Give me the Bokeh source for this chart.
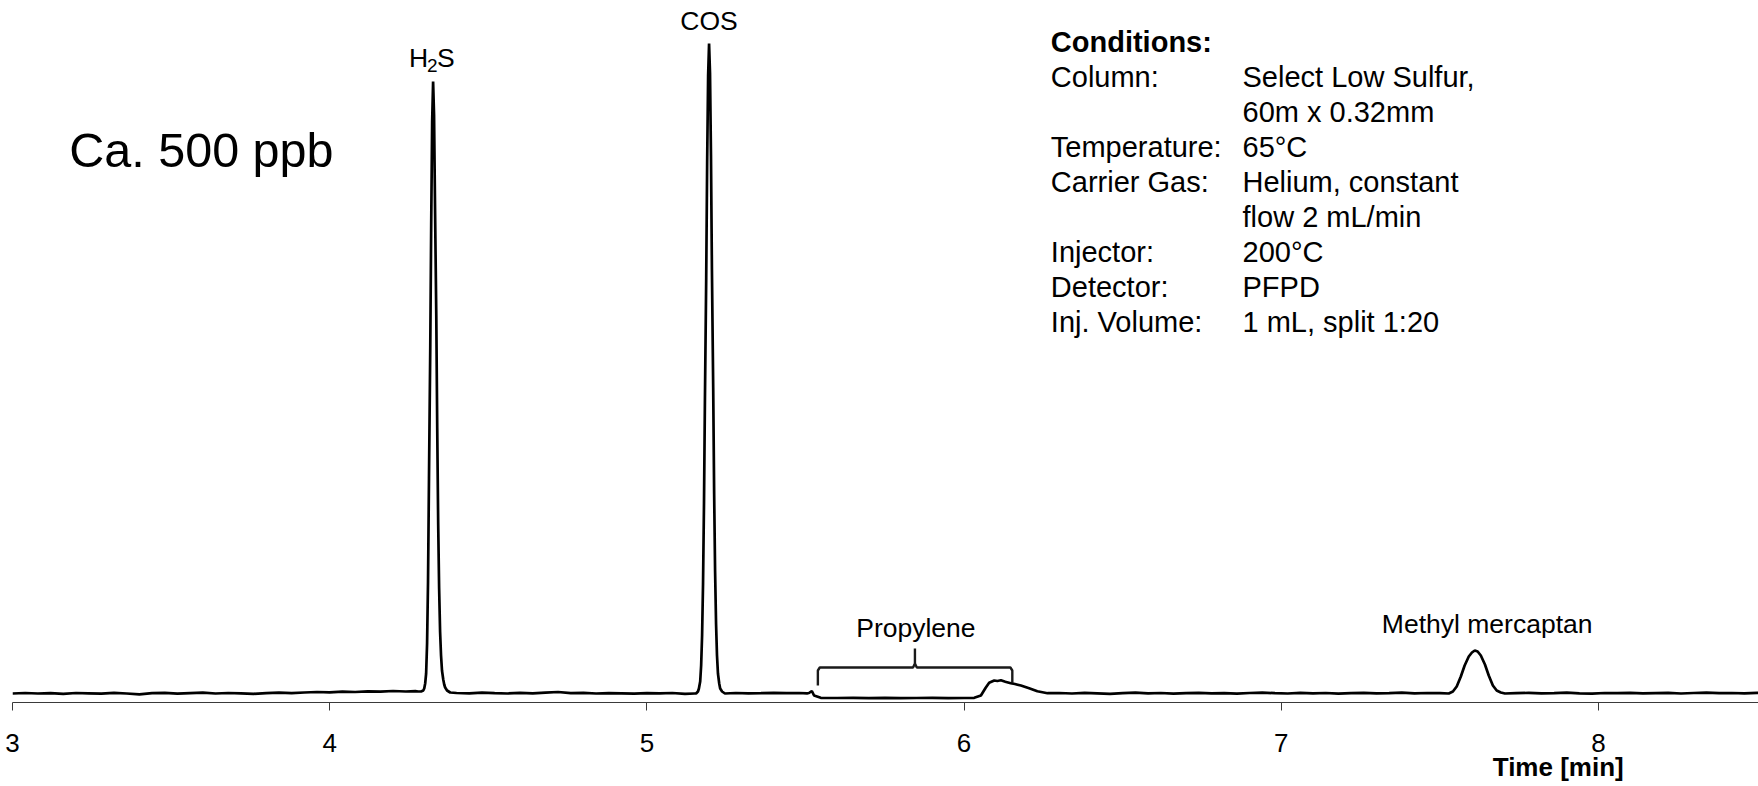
from bokeh.plotting import figure
from bokeh.models import Range1d, Label, FixedTicker, LinearAxis
from bokeh.embed import file_html
from bokeh.resources import INLINE

# ---------------- data ----------------
# retention time [min]
trace_time = [
    3.000, 3.040, 3.080, 3.120, 3.160, 3.200, 3.240, 3.280, 3.320, 3.360,
    3.400, 3.440, 3.480, 3.520, 3.560, 3.600, 3.640, 3.680, 3.720, 3.760,
    3.800, 3.840, 3.880, 3.920, 3.960, 4.000, 4.040, 4.080, 4.120, 4.160,
    4.200, 4.240, 4.270,
    # H2S
    4.279, 4.288, 4.295, 4.298, 4.301, 4.304, 4.307, 4.310, 4.313, 4.317,
    4.320, 4.323, 4.326, 4.329, 4.332, 4.336, 4.339, 4.342, 4.345, 4.348,
    4.351, 4.354, 4.358, 4.361, 4.364, 4.370, 4.380,
    4.400, 4.440, 4.480, 4.520, 4.560, 4.600, 4.640, 4.680, 4.720, 4.760,
    4.800, 4.840, 4.880, 4.920, 4.960, 5.000, 5.040, 5.080, 5.120, 5.150,
    # COS
    5.155, 5.161, 5.164, 5.168, 5.171, 5.174, 5.177, 5.180, 5.183, 5.187,
    5.190, 5.193, 5.196, 5.199, 5.202, 5.205, 5.209, 5.212, 5.215, 5.218,
    5.221, 5.224, 5.228, 5.231, 5.237, 5.246,
    5.280, 5.320, 5.360, 5.400, 5.440, 5.480, 5.505,
    # propylene region
    5.511, 5.520, 5.527, 5.548, 5.600, 5.650, 5.700, 5.750, 5.800, 5.850,
    5.900, 5.950, 6.000, 6.032, 6.053, 6.068, 6.079, 6.095, 6.105, 6.116,
    6.130, 6.147, 6.160, 6.179, 6.205, 6.231, 6.263,
    6.300, 6.340, 6.380, 6.420, 6.460, 6.500, 6.540, 6.580, 6.620, 6.660,
    6.700, 6.740, 6.780, 6.820, 6.860, 6.900, 6.940, 6.980, 7.020, 7.060,
    7.100, 7.140, 7.180, 7.220, 7.260, 7.300, 7.340, 7.380, 7.420, 7.460,
    7.500,
    # methyl mercaptan
    7.528, 7.541, 7.553, 7.566, 7.578, 7.591, 7.601, 7.610, 7.619, 7.629,
    7.642, 7.654, 7.667, 7.679, 7.692, 7.705,
    7.740, 7.780, 7.820, 7.860, 7.900, 7.940, 7.980, 8.020, 8.060, 8.100,
    8.140, 8.180, 8.220, 8.260, 8.300, 8.340, 8.380, 8.420, 8.460, 8.500,
    8.520,
]
# detector signal [arbitrary units]
trace_signal = [
    0.0, 0.5, 0.0, 0.3, -0.3, 0.5, 0.2, -0.2, 0.6, 0.0,
    -0.8, 0.3, 0.6, -0.2, 0.4, 0.9, 0.0, 0.5, 0.2, -0.3,
    0.4, 0.8, 0.3, 1.0, 1.5, 1.2, 1.8, 1.5, 2.2, 1.8,
    2.5, 2.0, 2.4,
    2.0, 2.0, 3.0, 5.0, 10.0, 20.0, 50.0, 112.0, 215.0, 345.0,
    470.0, 572.0, 612.0, 578.0, 488.0, 378.0, 265.0, 170.0, 105.0, 62.0,
    38.0, 23.0, 14.0, 9.0, 6.0, 3.0, 1.0,
    0.5, 0.2, 0.8, 0.3, 0.0, 0.6, 0.2, 0.9, 1.5, 0.3,
    0.6, 0.0, 0.4, 0.2, -0.2, 0.3, 0.1, 0.5, -0.4, 0.0,
    0.0, 2.0, 5.0, 12.0, 28.0, 58.0, 110.0, 190.0, 296.0, 416.0,
    533.0, 618.0, 650.0, 620.0, 538.0, 424.0, 306.0, 200.0, 122.0, 70.0,
    38.0, 20.0, 10.0, 5.0, 2.0, 0.0,
    0.5, 0.2, 0.3, 0.6, 0.4, 0.5, 0.2,
    0.5, 2.5, -2.0, -4.3, -4.5, -4.3, -4.6, -4.4, -4.7, -4.5,
    -4.4, -4.6, -4.5, -4.3, -2.0, 5.7, 10.7, 13.0, 12.5, 13.2,
    11.8, 10.3, 9.5, 8.0, 5.3, 2.3, 0.3,
    0.5, 0.0, 0.6, 0.2, -0.3, 0.4, 0.8, 0.1, 0.5, -0.2,
    0.3, 0.7, 0.2, 0.4, -0.1, 0.5, 0.9, 0.3, 0.0, 0.6,
    0.2, 0.5, -0.2, 0.3, 0.7, 0.1, 0.4, 0.8, 0.2, 0.5,
    0.3,
    0.0, 2.0, 7.0, 17.0, 28.0, 37.0, 41.0, 43.0, 42.0, 38.0,
    29.0, 18.0, 8.0, 3.0, 1.0, 0.0,
    0.3, 0.6, 0.1, 0.4, 0.8, 0.2, -0.2, 0.5, 0.3, 0.7,
    0.1, 0.4, 0.6, 0.0, 0.5, 0.9, 0.3, 0.5, 0.2, 0.6,
    0.4,
]

tick_values = [3, 4, 5, 6, 7, 8]
tick_labels = ["3", "4", "5", "6", "7", "8"]
axis_title = "Time [min]"
axis_title_time = 7.873

# peak annotations: (label, time, signal of label baseline)
cos_label = ("COS", 5.196, 663.0)
propylene_label = ("Propylene", 5.848, 56.3)
mesh_label = ("Methyl mercaptan", 7.649, 59.7)
h2s_time = 4.326
h2s_label_y = 626.3

# propylene bracket (time, signal)
brace_left, brace_mid, brace_right = 5.539, 5.845, 6.152
brace_foot_left, brace_foot_right, brace_bar, brace_tip = 8.0, 11.0, 26.0, 45.0

cond_keys = ["Column:", "", "Temperature:", "Carrier Gas:", "", "Injector:",
             "Detector:", "Inj. Volume:"]
cond_vals = ["Select Low Sulfur,", "60m x 0.32mm", "65°C", "Helium, constant",
             "flow 2 mL/min", "200°C", "PFPD", "1 mL, split 1:20"]

# ---------------- layout ----------------
FONT = "Liberation Sans"
W, H = 1758, 786
PX_PER_MIN = 317.2
LEFT = 12
X0 = 3.0
X1 = X0 + (W - LEFT) / PX_PER_MIN
FRAME_H = 702
BASE_PX = 693          # baseline position from the top (1 unit = 1 px)
Y_TOP = BASE_PX
Y_BOT = BASE_PX - FRAME_H

p = figure(width=W, height=H, x_range=Range1d(X0, X1), y_range=Range1d(Y_BOT, Y_TOP),
           output_backend="svg", toolbar_location=None, y_axis_location=None,
           min_border_left=LEFT, min_border_right=0, min_border_top=0,
           min_border_bottom=H - FRAME_H)
p.outline_line_color = None
p.xgrid.visible = False
p.ygrid.visible = False
p.background_fill_color = "white"
p.border_fill_color = "white"

ax = p.xaxis[0]
ax.ticker = FixedTicker(ticks=tick_values)
ax.major_label_overrides = {v: s for v, s in zip(tick_values, tick_labels)}
ax.major_tick_out = 8
ax.major_tick_in = 0
ax.minor_tick_out = 0
ax.minor_tick_in = 0
ax.axis_line_color = "#3a3a3a"
ax.major_tick_line_color = "#3a3a3a"
ax.axis_line_width = 1
ax.major_label_text_font = FONT
ax.major_label_text_font_size = "26px"
ax.major_label_text_color = "black"
ax.major_label_standoff = 23

# second, line-less axis carrying the axis title under the tick labels
ax2 = LinearAxis(ticker=FixedTicker(ticks=[axis_title_time]),
                 major_label_overrides={axis_title_time: axis_title},
                 axis_line_color=None, major_tick_line_color=None,
                 minor_tick_line_color=None, major_tick_out=0, major_tick_in=0,
                 minor_tick_out=0, minor_tick_in=0,
                 major_label_text_font=FONT, major_label_text_font_size="26px",
                 major_label_text_font_style="bold", major_label_text_color="black",
                 major_label_standoff=-3)
p.add_layout(ax2, "below")

p.line(trace_time, trace_signal, line_color="black", line_width=2.7)

# bracket
dx = 0.006
bx = [brace_left, brace_left, brace_left + dx, brace_mid - dx, brace_mid, brace_mid,
      brace_mid, brace_mid + dx, brace_right - dx, brace_right, brace_right]
by = [brace_foot_left, brace_bar - 3, brace_bar, brace_bar, brace_bar + 4, brace_tip,
      brace_bar + 4, brace_bar, brace_bar, brace_bar - 3, brace_foot_right]
p.line(bx, by, line_color="#1a1a1a", line_width=2.4)


def lab(x, y, text, size, align="center", bold=False, x_offset=0):
    p.add_layout(Label(x=x, y=y + 0.36 * size, text=text, text_font=FONT,
                       text_font_size=f"{size}px",
                       text_align=align, text_baseline="alphabetic",
                       text_font_style="bold" if bold else "normal",
                       text_color="black", x_offset=x_offset))


# H2S with subscript
lab(h2s_time, h2s_label_y, "H", 26.5, align="left", x_offset=-24)
lab(h2s_time, h2s_label_y - 5, "2", 19, align="left", x_offset=-6)
lab(h2s_time, h2s_label_y, "S", 26.5, align="left", x_offset=4)

for name, t, y in (cos_label, propylene_label, mesh_label):
    lab(t, y, name, 26.5)

lab(3.179, 526.3, "Ca. 500 ppb", 48.5, align="left")

COND_X_KEY = 6.2734
COND_X_VAL = 6.8777
lab(COND_X_KEY, BASE_PX - 51.7, "Conditions:", 29, align="left", bold=True)
for i, (k, v) in enumerate(zip(cond_keys, cond_vals)):
    yb = BASE_PX - (86.7 + 35 * i)
    if k:
        lab(COND_X_KEY, yb, k, 29, align="left")
    lab(COND_X_VAL, yb, v, 29, align="left")

open("out.html", "w").write(file_html(p, INLINE))
